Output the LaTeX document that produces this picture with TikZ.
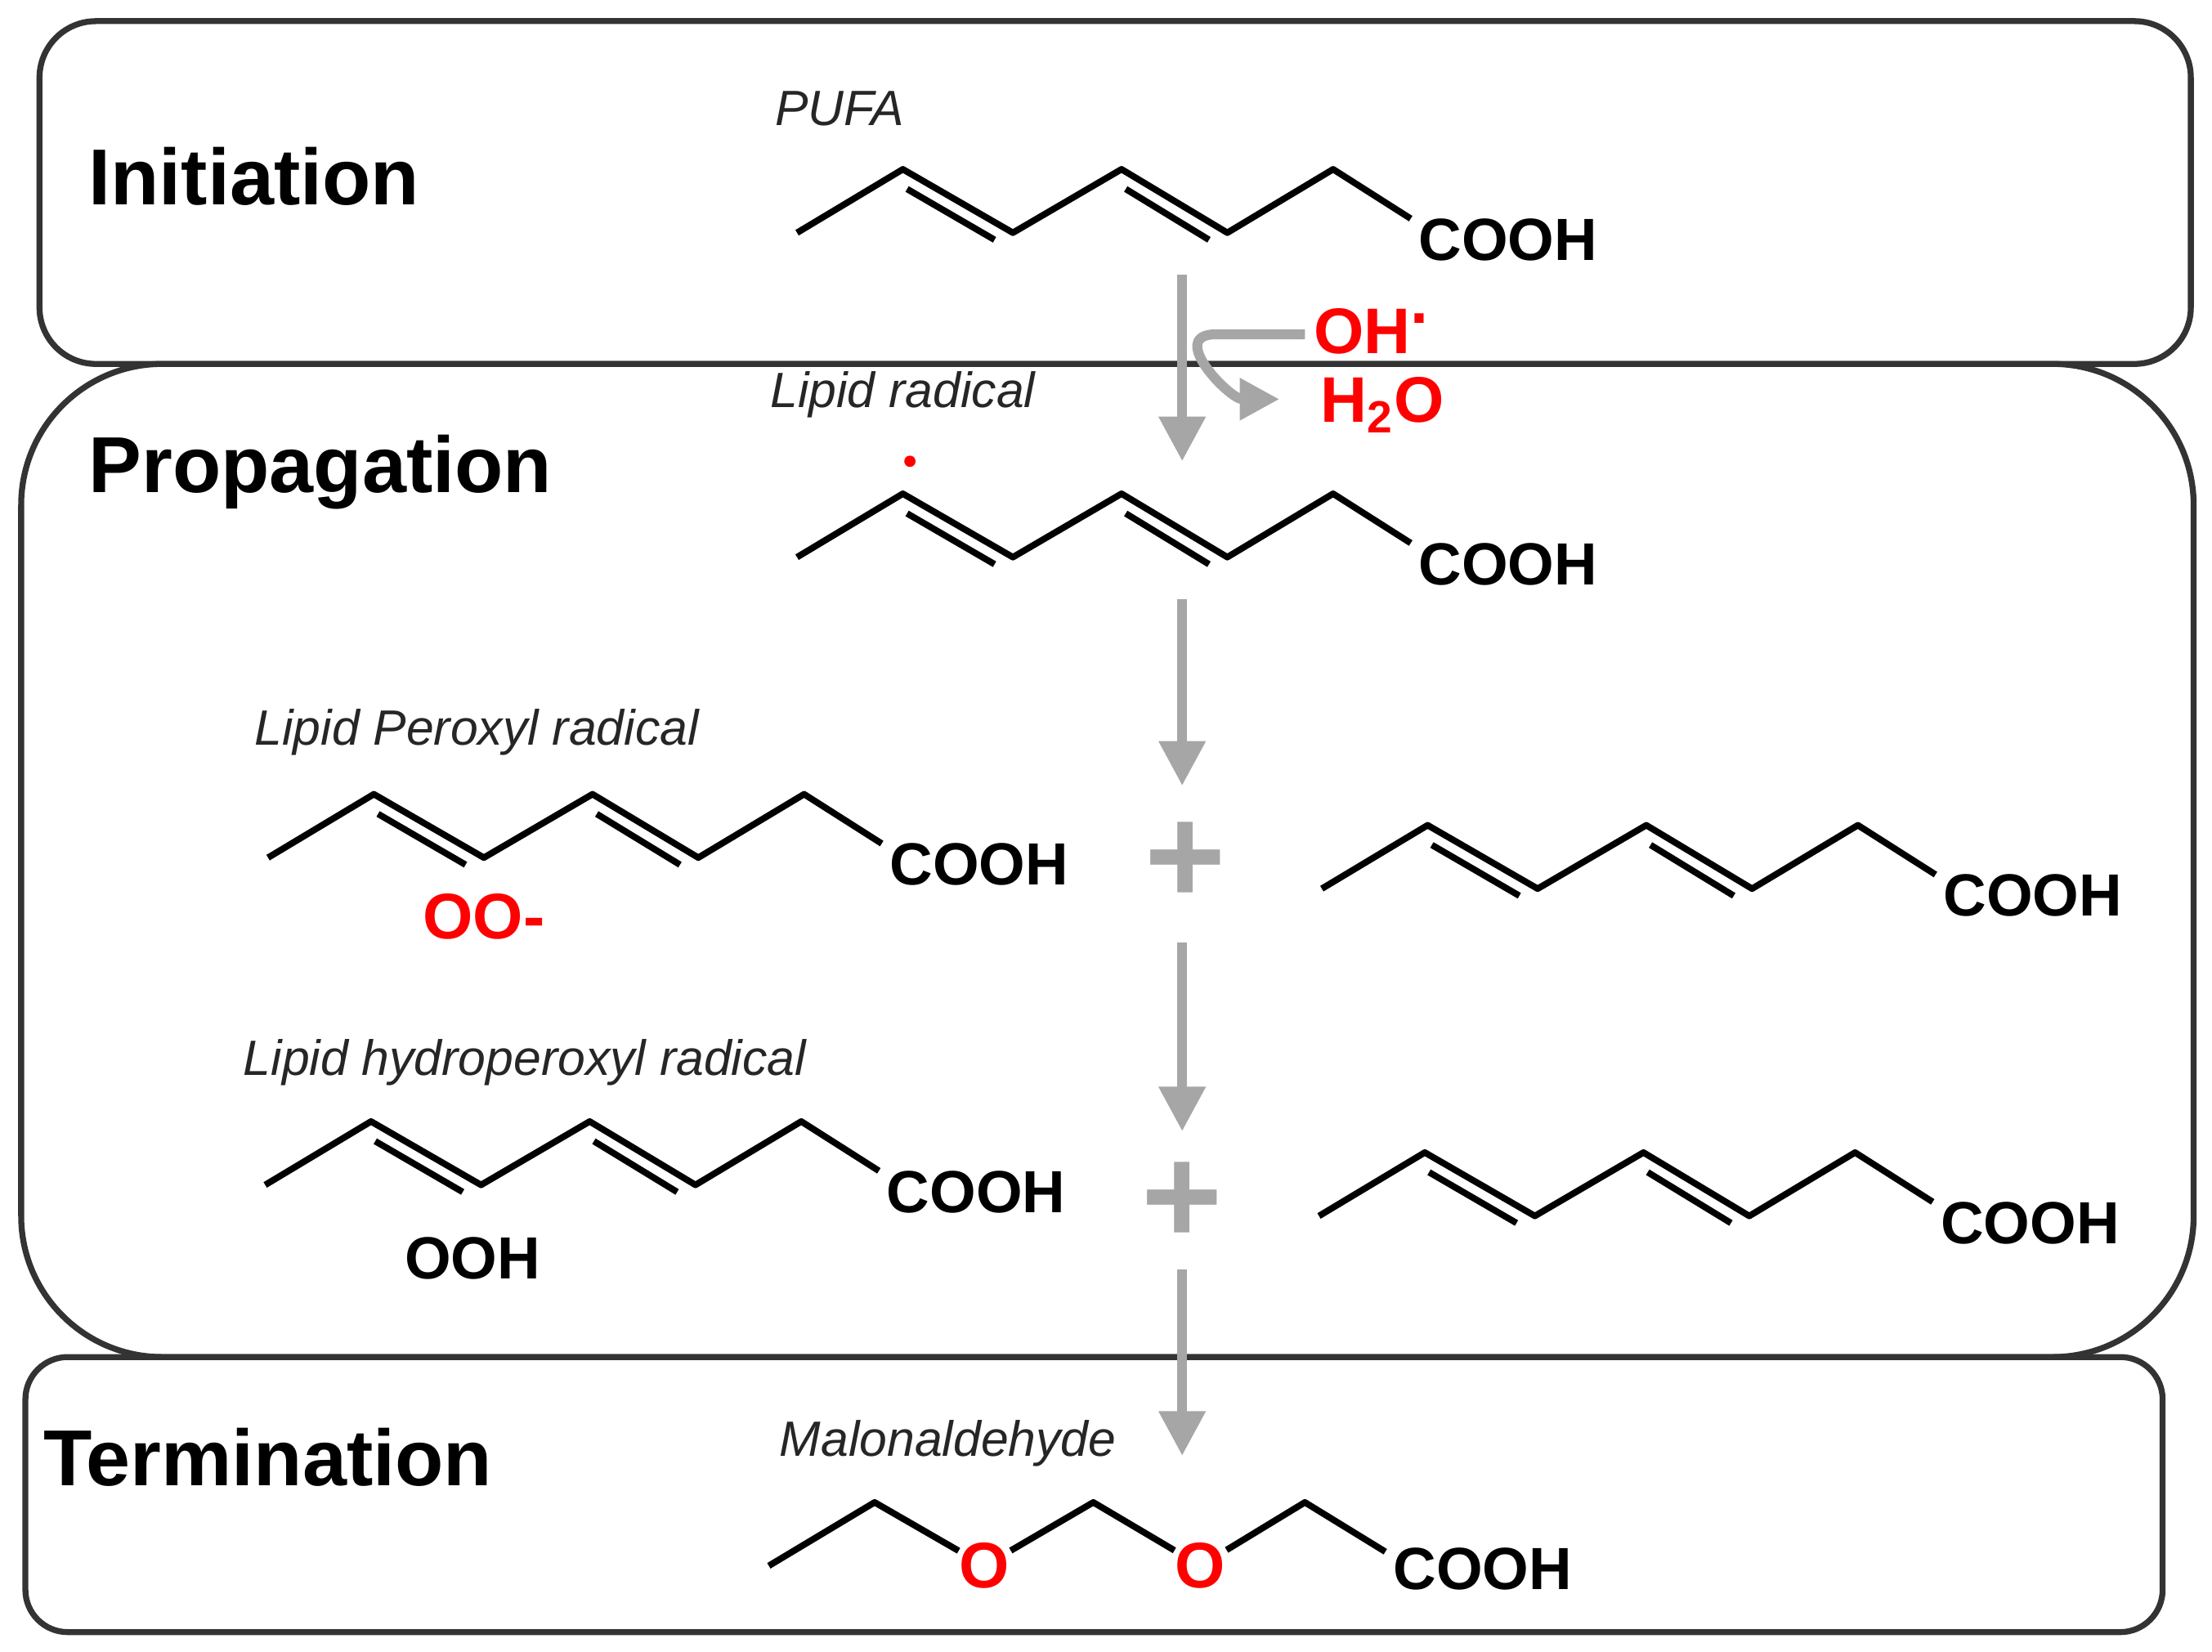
\documentclass[tikz,border=0pt]{standalone}
\usepackage{fontspec}
\setmainfont{Liberation Sans}
\usetikzlibrary{arrows.meta}
\begin{document}
\begin{tikzpicture}[x=0.01cm,y=-0.01cm,
  box/.style={draw=black!80,line width=1.2pt},
  bond/.style={line width=1.3pt,line join=round},
  garrow/.style={draw=black!35,line width=2pt,-{Triangle[length=9pt,width=9pt]}},
  lab/.style={font=\fontsize{10}{12}\selectfont\itshape,text=black!85},
  head/.style={font=\fontsize{16}{19}\selectfont\bfseries},
  cooh/.style={font=\fontsize{12}{14}\selectfont\bfseries,inner sep=0pt},
  rtxt/.style={text=red,font=\fontsize{13}{15}\selectfont\bfseries,inner sep=0pt},
  chain/.pic={
    \draw[bond] (0,0) -- (75,-45) -- (153,0) -- (230,-45) -- (305,0) -- (380,-45) -- (435,-10);
    \draw[bond] (78,-31) -- (140,5);
    \draw[bond] (233,-31) -- (292,5);
    \node[cooh,anchor=west] (-c) at (440,5) {COOH};
  }]
\useasboundingbox (0,0) rectangle (1568,1171);
\draw[box,rounded corners=0.4cm] (28,15) rectangle (1553,258);
\draw[box,rounded corners=1cm] (15,258) rectangle (1555,962);
\draw[box,rounded corners=0.3cm] (18,962) rectangle (1533,1157);
\node[head] (h1) at (180,125) {Initiation};
\node[head] (h2) at (227,335) {Propagation};
\node[head] (h3) at (190,1033) {Termination};
\node[lab] (l1) at (595,77) {PUFA};
\node[lab] (l2) at (640,280) {Lipid radical};
\node[lab] (l3) at (338,519) {Lipid Peroxyl radical};
\node[lab] (l4) at (372,753) {Lipid hydroperoxyl radical};
\node[lab] (l5) at (672,1023) {Malonaldehyde};
\pic (m1) at (565,165) {chain};
\pic (m2) at (565,395) {chain};
\pic (m3) at (190,608) {chain};
\pic (m4) at (937,630) {chain};
\pic (m5) at (188,840) {chain};
\pic (m6) at (935,862) {chain};
\fill[red] (645,327) circle (4);
\node[rtxt] (oo) at (343,650) {OO-};
\node[cooh] (ooh) at (335,892) {OOH};
% malonaldehyde
\node[rtxt] (o1) at (698,1110) {O};
\node[rtxt] (o2) at (851,1110) {O};
\coordinate (a0) at (545,1110);
\coordinate (a1) at (620,1065);
\coordinate (a3) at (775,1065);
\coordinate (a5) at (925,1065);
\coordinate (a6) at (982,1100);
\node[cooh,anchor=west] (mc) at (987,1112) {COOH};
\draw[bond] (a0) -- (a1) -- (o1) -- (a3) -- (o2) -- (a5) -- (a6);
% arrows
\coordinate (s1) at (838,195); \coordinate (e1) at (838,327);
\coordinate (s2) at (838,425); \coordinate (e2) at (838,557);
\coordinate (s3) at (838,668); \coordinate (e3) at (838,802);
\coordinate (s4) at (838,900); \coordinate (e4) at (838,1032);
\draw[garrow] (s1) -- (e1);
\draw[garrow] (s2) -- (e2);
\draw[garrow] (s3) -- (e3);
\draw[garrow] (s4) -- (e4);
\coordinate (b0) at (925,237); \coordinate (b1) at (907,283);
\draw[draw=black!35,line width=2pt,-{Triangle[length=8pt,width=8pt]}] (b0) -- (862,237) to[out=180,in=180,looseness=1.4] (b1);
\node[rtxt] (oh) at (972,235) {OH\raisebox{0.9ex}{\textbf{.}}};
\node[rtxt] (h2o) at (980,287) {H\textsubscript{2}O};
\node[text=black!35,font=\fontsize{28}{28}\selectfont\bfseries] (p1) at (840,612) {+};
\node[text=black!35,font=\fontsize{28}{28}\selectfont\bfseries] (p2) at (838,853) {+};
\end{tikzpicture}
\end{document}
